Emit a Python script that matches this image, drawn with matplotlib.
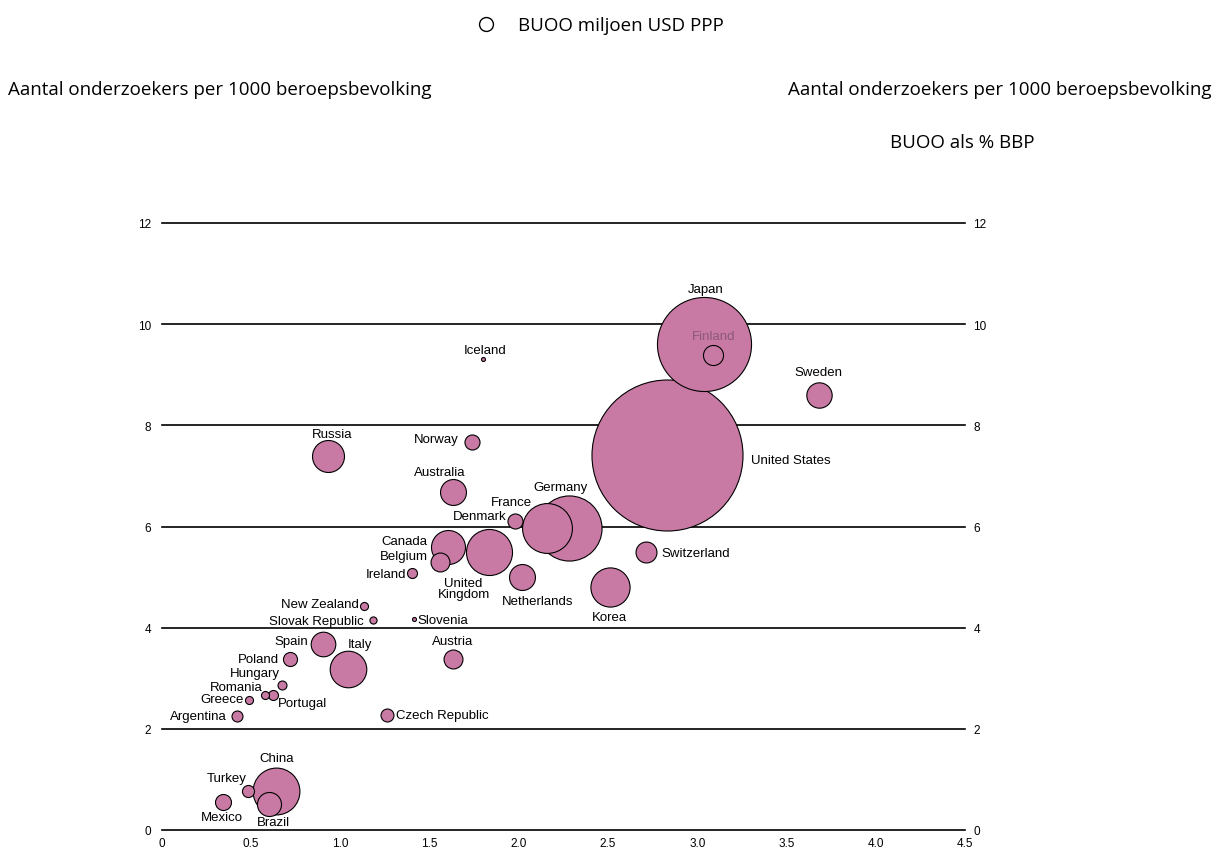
import matplotlib
matplotlib.use("Agg")
import matplotlib.pyplot as plt
from matplotlib.lines import Line2D

# ---------------- data ----------------
countries = ["United States", "Japan", "Germany", "France", "United Kingdom", "China",
             "Korea", "Italy", "Canada", "Russia", "Australia", "Netherlands", "Sweden",
             "Spain", "Brazil", "Switzerland", "Finland", "Belgium", "Austria", "Mexico",
             "Denmark", "Norway", "Poland", "Czech Republic", "Turkey", "Argentina",
             "Portugal", "Ireland", "Hungary", "New Zealand", "Slovak Republic", "Romania",
             "Greece", "Slovenia", "Iceland"]
# BUOO als % BBP (x-axis)
gerd_pct_gdp = [2.83, 3.04, 2.28, 2.16, 1.83, 0.64,
                2.51, 1.04, 1.60, 0.93, 1.63, 2.02, 3.68,
                0.90, 0.60, 2.71, 3.09, 1.56, 1.63, 0.34,
                1.98, 1.74, 0.72, 1.26, 0.48, 0.42,
                0.62, 1.40, 0.67, 1.13, 1.18, 0.58,
                0.49, 1.41, 1.80]
# Aantal onderzoekers per 1000 beroepsbevolking (y-axis)
researchers = [7.41, 9.60, 5.98, 5.98, 5.49, 0.77,
               4.81, 3.19, 5.60, 7.39, 6.69, 5.01, 8.59,
               3.68, 0.51, 5.49, 9.39, 5.29, 3.39, 0.55,
               6.10, 7.68, 3.39, 2.28, 0.77, 2.26,
               2.67, 5.09, 2.87, 4.42, 4.16, 2.67,
               2.57, 4.18, 9.31]
# BUOO miljoen USD PPP (bubble size)
gerd_musd = [312000, 121000, 58000, 34000, 29000, 30000,
             21000, 18300, 15800, 14000, 9200, 9200, 8800,
             8300, 7900, 6000, 5500, 4900, 4900, 3500,
             3100, 3100, 2700, 2300, 2000, 1650,
             1370, 1370, 1100, 880, 700, 880,
             880, 220, 220]

x_ticks = [0, 0.5, 1.0, 1.5, 2.0, 2.5, 3.0, 3.5, 4.0, 4.5]
x_tick_labels = ["0", "0.5", "1.0", "1.5", "2.0", "2.5", "3.0", "3.5", "4.0", "4.5"]
y_ticks = [0, 2, 4, 6, 8, 10, 12]
y_tick_labels = ["0", "2", "4", "6", "8", "10", "12"]

legend_text = "BUOO miljoen USD PPP"
y_title = "Aantal onderzoekers per 1000 beroepsbevolking"
x_title = "BUOO als % BBP"

# ---------------- label layout (pixel offsets from bubble centre) ----------------
label_layout = {
    "Japan": (1, 55, "center"), "Finland": (0, 19, "center"), "Sweden": (0, 23, "center"),
    "United States": (84, -5, "left"), "Germany": (-8, 41, "center"),
    "France": (-15, 26, "right"), "Denmark": (-9, 5, "right"), "Canada": (-20, 6, "right"),
    "Belgium": (-12, 6, "right"), "Ireland": (-6, -1, "right"),
    "United Kingdom": (-25, -36, "center"), "Netherlands": (15, -24, "center"),
    "Korea": (0, -30, "center"), "Switzerland": (16, -1, "left"), "Norway": (-14, 3, "right"),
    "Australia": (-13, 20, "center"), "Slovenia": (4, -1, "left"), "Russia": (4, 22, "center"),
    "Iceland": (2, 9, "center"), "New Zealand": (-5, 2, "right"),
    "Slovak Republic": (-9, -1, "right"), "Spain": (-14, 3, "right"), "Italy": (12, 25, "center"),
    "Austria": (0, 18, "center"), "Poland": (-11, 0, "right"), "Hungary": (-2, 12, "right"),
    "Romania": (-3, 8, "right"), "Greece": (-6, 1, "right"), "Portugal": (5, -8, "left"),
    "Argentina": (-10, 0, "right"), "Czech Republic": (9, 0, "left"), "China": (0, 33, "center"),
    "Turkey": (-1, 13, "right"), "Mexico": (-1, -15, "center"), "Brazil": (4, -18, "center"),
}
label_text = {"United Kingdom": "United\nKingdom"}

W, H = 1218, 853
fig = plt.figure(figsize=(W / 100, H / 100), dpi=100)
ax = fig.add_axes([162 / W, (H - 831) / H, (965 - 162) / W, (831 - 224) / H])

bubble_color = "#C97AA4"
size_scale = 0.0379
order = sorted(range(len(countries)), key=lambda i: -gerd_musd[i])
for z, i in enumerate(order):
    ax.scatter(gerd_pct_gdp[i], researchers[i], s=gerd_musd[i] * size_scale,
               facecolor=bubble_color, edgecolor="black", linewidth=0.8,
               zorder=3 + z * 0.01, clip_on=False)

chart_family = ["Liberation Sans", "DejaVu Sans"]
for i, c in enumerate(countries):
    dx, dy, ha = label_layout[c]
    col = "#8a5a78" if c == "Finland" else "black"
    ax.annotate(label_text.get(c, c), (gerd_pct_gdp[i], researchers[i]),
                xytext=(dx, dy), textcoords="offset pixels", ha=ha, va="center",
                color=col, zorder=10, linespacing=0.95,
                family=chart_family, fontsize=9.5)

ax.set_xlim(0, 4.5)
ax.set_ylim(0, 12)
for s in ax.spines.values():
    s.set_visible(False)
for yv in y_ticks:
    ax.axhline(yv, color="black", lw=1.2, zorder=1, clip_on=False)

ax.set_xticks(x_ticks)
ax.set_xticklabels(x_tick_labels, family=chart_family)
ax.set_xticks(x_ticks[1:-1], minor=True)
ax.tick_params(axis="x", which="major", length=0, pad=5, labelsize=8.5)
ax.tick_params(axis="x", which="minor", direction="in", length=7, width=1.2, color="black")
ax.set_yticks(y_ticks)
ax.set_yticklabels(y_tick_labels, family=chart_family)
ax.tick_params(axis="y", length=0, pad=8, labelsize=8.5)

axr = ax.twinx()
axr.set_ylim(0, 12)
axr.set_yticks(y_ticks)
axr.set_yticklabels(y_tick_labels, family=chart_family)
axr.tick_params(axis="y", length=0, pad=6, labelsize=8.5)
for s in axr.spines.values():
    s.set_visible(False)

head_font = dict(family=["Open Sans", "DejaVu Sans"], fontsize=13.5)
fig.add_artist(Line2D([486 / W], [1 - 25 / H], marker="o", ms=10, mfc="none",
                      mec="black", mew=1.0, transform=fig.transFigure))
fig.text(518 / W, 1 - 26 / H, legend_text, ha="left", va="center", **head_font)
fig.text(8 / W, 1 - 90 / H, y_title, ha="left", va="center", **head_font)
fig.text(1212 / W, 1 - 90 / H, y_title, ha="right", va="center", **head_font)
fig.text(1035 / W, 1 - 143 / H, x_title, ha="right", va="center", **head_font)

fig.savefig("out.png", dpi=100, facecolor="white")
